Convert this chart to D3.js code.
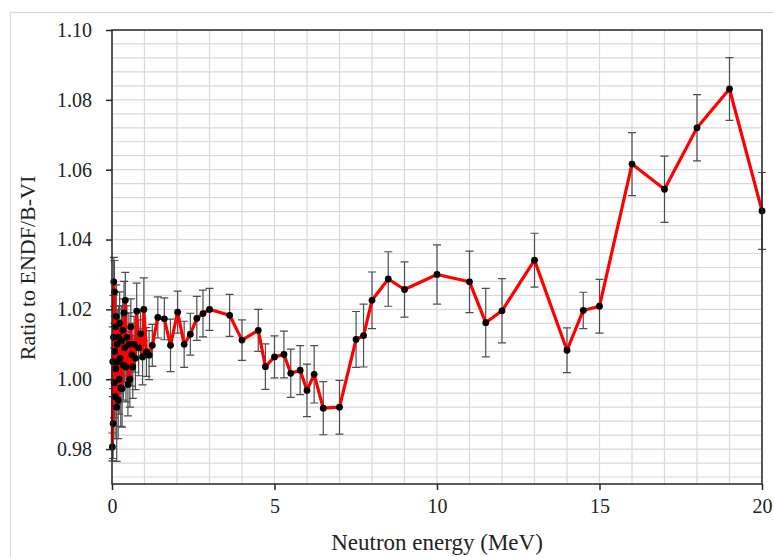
<!DOCTYPE html>
<html>
<head>
<meta charset="utf-8">
<script src="https://cdn.jsdelivr.net/npm/d3@7"></script>
<style>
  body { margin: 0; background: #fff; }
  svg { display: block; }
  text { font-family: "Liberation Serif", "Times New Roman", serif; fill: #222; }
</style>
</head>
<body>
<svg id="chart" width="774" height="557"></svg>
<script>
// Neutron energy (MeV) of each measured point
const energy = [
  0.010, 0.025, 0.035, 0.045, 0.055, 0.065, 0.075, 0.085, 0.095, 0.105,
  0.115, 0.130, 0.145, 0.160, 0.175, 0.190, 0.205, 0.220, 0.235, 0.250,
  0.270, 0.290, 0.310, 0.330, 0.350, 0.370, 0.390, 0.410, 0.430, 0.460,
  0.490, 0.520, 0.550, 0.580, 0.610, 0.640, 0.680, 0.720, 0.760, 0.820,
  0.880, 0.940, 0.980, 1.060, 1.140, 1.240,
  1.41, 1.61, 1.80, 2.02, 2.22, 2.41, 2.61, 2.80, 3.00, 3.62,
  4.00, 4.50, 4.72, 5.00, 5.29, 5.50, 5.79, 6.00, 6.22, 6.50,
  7.00, 7.51, 7.74, 8.00, 8.50, 9.00, 10.00, 11.00, 11.50, 12.00,
  13.00, 14.00, 14.50, 15.00, 16.00, 17.00, 18.00, 19.00, 20.00
];

// Ratio of the measured cross section to ENDF/B-VI
const ratio = [
  0.9806, 1.0050, 0.9873, 1.0120, 1.0279, 0.9990, 1.0250, 1.0080, 0.9950, 1.0150,
  1.0030, 1.0180, 0.9920, 1.0100, 1.0050, 0.9940, 1.0120, 1.0000, 1.0160, 1.0060,
  0.9975, 1.0110, 0.9973, 1.0140, 1.0040, 1.0190, 1.0090, 1.0226, 1.0035, 1.0120,
  0.9985, 1.0100, 1.0000, 1.0150, 1.0070, 1.0035, 1.0100, 1.0060, 1.0195, 1.0090,
  1.0130, 1.0064, 1.0200, 1.0078, 1.0069, 1.0097,
  1.0177, 1.0173, 1.0097, 1.0192, 1.0100, 1.0129, 1.0174, 1.0188, 1.0200, 1.0183,
  1.0112, 1.0140, 1.0036, 1.0064, 1.0071, 1.0017, 1.0026, 0.9968, 1.0014, 0.9917,
  0.9920, 1.0114, 1.0125, 1.0226, 1.0287, 1.0257, 1.0300, 1.0279, 1.0162, 1.0196,
  1.0341, 1.0083, 1.0197, 1.0209, 1.0616, 1.0544, 1.0720, 1.0831, 1.0482
];

// One-sigma uncertainty of each ratio
const uncertainty = [
  0.0040, 0.0100, 0.0100, 0.0120, 0.0070, 0.0100, 0.0090, 0.0100, 0.0120, 0.0100,
  0.0100, 0.0090, 0.0155, 0.0100, 0.0120, 0.0110, 0.0090, 0.0100, 0.0090, 0.0100,
  0.0110, 0.0100, 0.0110, 0.0090, 0.0100, 0.0090, 0.0100, 0.0080, 0.0100, 0.0090,
  0.0090, 0.0090, 0.0080, 0.0080, 0.0090, 0.0090, 0.0080, 0.0090, 0.0080, 0.0080,
  0.0070, 0.0080, 0.0090, 0.0070, 0.0070, 0.0060,
  0.0059, 0.0060, 0.0075, 0.0060, 0.0066, 0.0060, 0.0063, 0.0067, 0.0060, 0.0060,
  0.0058, 0.0060, 0.0065, 0.0060, 0.0067, 0.0069, 0.0070, 0.0075, 0.0082, 0.0076,
  0.0077, 0.0080, 0.0090, 0.0081, 0.0078, 0.0079, 0.0085, 0.0088, 0.0098, 0.0092,
  0.0077, 0.0064, 0.0052, 0.0077, 0.0090, 0.0095, 0.0095, 0.0090, 0.0110
];

const xTicks = [0, 5, 10, 15, 20];
const yTicks = [0.98, 1.00, 1.02, 1.04, 1.06, 1.08, 1.10];
const xGrid = d3.range(0, 21, 1);
const yGrid = d3.range(-2, 30).map(k => +(0.98 + 0.004 * k).toFixed(3));

const svg = d3.select("#chart");
const plot = { left: 112, right: 762, top: 30, bottom: 484 };

// outer chart frame
svg.append("rect")
  .attr("x", 10.5).attr("y", 12.5)
  .attr("width", 820).attr("height", 620)
  .attr("fill", "#fff").attr("stroke", "#d9d9d9").attr("stroke-width", 1.2);

const x = d3.scaleLinear().domain([0, 20]).range([plot.left, plot.right]);
const y = d3.scaleLinear().domain([0.97, 1.10]).range([plot.bottom, plot.top]);

const data = energy.map((e, i) => ({ e, r: ratio[i], u: uncertainty[i] }));

// gridlines
const grid = svg.append("g").attr("stroke", "#d9d9d9").attr("stroke-width", 1.2);
grid.selectAll("line.v").data(xGrid).join("line")
  .attr("class", "v")
  .attr("x1", d => x(d)).attr("x2", d => x(d))
  .attr("y1", plot.top).attr("y2", plot.bottom);
grid.selectAll("line.h").data(yGrid).join("line")
  .attr("class", "h")
  .attr("x1", plot.left).attr("x2", plot.right)
  .attr("y1", d => y(d)).attr("y2", d => y(d));

// error bars
const eb = svg.append("g").attr("stroke", "#4d4d4d").attr("stroke-width", 1.2).attr("fill", "none");
const capW = 4;
eb.selectAll("path").data(data).join("path")
  .attr("d", d => {
    const cx = x(d.e), y0 = y(d.r - d.u), y1 = y(d.r + d.u);
    return `M${cx},${y0}V${y1}M${cx - capW},${y0}H${cx + capW}M${cx - capW},${y1}H${cx + capW}`;
  });

// ratio curve
const line = d3.line().x(d => x(d.e)).y(d => y(d.r));
svg.append("path").datum(data)
  .attr("d", line)
  .attr("fill", "none").attr("stroke", "#ff0000")
  .attr("stroke-width", 3.2).attr("stroke-linejoin", "round");

// markers
svg.append("g").selectAll("circle").data(data).join("circle")
  .attr("cx", d => x(d.e)).attr("cy", d => y(d.r))
  .attr("r", 3.4).attr("fill", "#000");

// plot box
svg.append("rect")
  .attr("x", plot.left).attr("y", plot.top)
  .attr("width", plot.right - plot.left).attr("height", plot.bottom - plot.top)
  .attr("fill", "none").attr("stroke", "#262626").attr("stroke-width", 1.5);

// axes
const xAxis = d3.axisBottom(x).tickValues(xTicks).tickFormat(d3.format("d"))
  .tickSizeInner(6).tickSizeOuter(0).tickPadding(9);
const yAxis = d3.axisLeft(y).tickValues(yTicks).tickFormat(d3.format(".2f"))
  .tickSizeInner(6).tickSizeOuter(0).tickPadding(14);

const gx = svg.append("g").attr("transform", `translate(0,${plot.bottom})`).call(xAxis);
const gy = svg.append("g").attr("transform", `translate(${plot.left},0)`).call(yAxis);
[gx, gy].forEach(g => {
  g.select(".domain").remove();
  g.selectAll(".tick line").attr("stroke", "#262626").attr("stroke-width", 1.5);
  g.selectAll(".tick text").attr("fill", "#222")
    .style("font-family", '"Liberation Serif", serif').style("font-size", "20px");
});

// axis titles
svg.append("text")
  .attr("transform", `translate(35,268) rotate(-90)`)
  .attr("text-anchor", "middle")
  .style("font-size", "22px")
  .text("Ratio to ENDF/B-VI");

svg.append("text")
  .attr("x", (plot.left + plot.right) / 2).attr("y", 550)
  .attr("text-anchor", "middle")
  .style("font-size", "23px")
  .text("Neutron energy (MeV)");
</script>
</body>
</html>
